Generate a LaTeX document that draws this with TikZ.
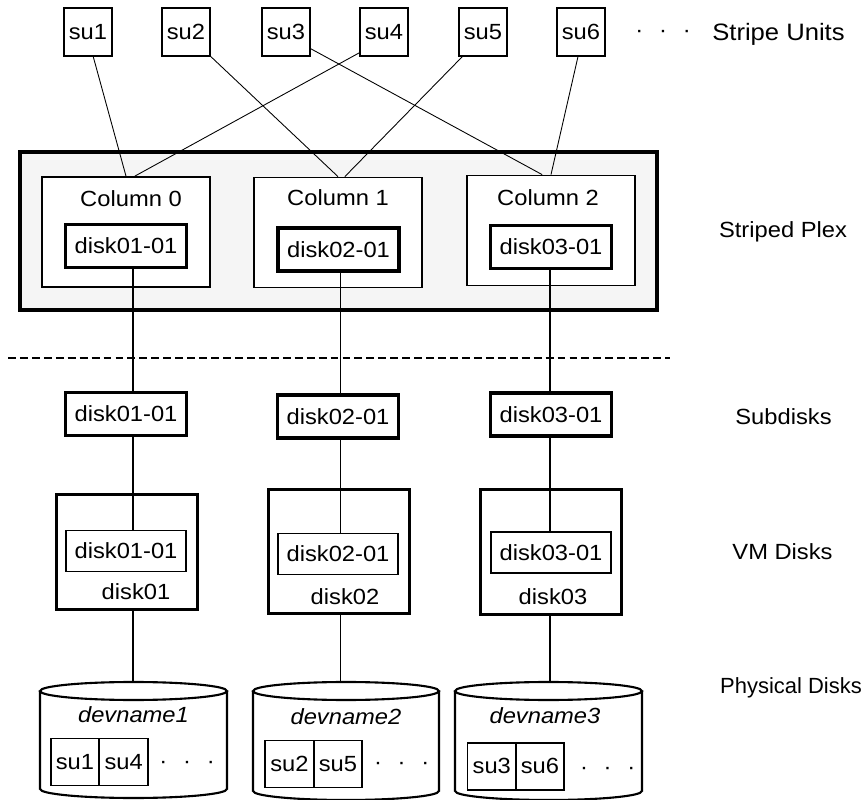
\documentclass[tikz,border=0pt]{standalone}
\usepackage{fontspec}
\setmainfont{Liberation Sans}[FakeStretch=1.08]
\newfontfamily\narrowsans{Liberation Sans}
\usetikzlibrary{calc}
\newcommand{\sudots}{·\hspace{9pt}·\hspace{9pt}·}
\tikzset{
   every node/.style={font=\fontsize{12.5}{15}\selectfont, inner sep=0pt},
   subox/.style={draw, line width=1.1pt, minimum width=0.96cm, minimum height=0.95cm},
   colbox/.style={draw, fill=white, line width=1pt, minimum width=3.36cm, minimum height=2.2cm},
   sdbox/.style={draw, fill=white, line width=1.9pt, minimum width=2.42cm, minimum height=0.86cm},
   vmbox/.style={draw, line width=1.7pt, minimum width=2.84cm},
   vmin/.style={draw, fill=white, line width=0.9pt, minimum width=2.4cm, minimum height=0.82cm},
   pdsu/.style={draw, line width=1pt, minimum width=0.97cm, minimum height=0.94cm},
   plex/.style={draw, fill=black!4, line width=1.9pt, minimum width=12.74cm, minimum height=3.16cm},
   devlbl/.style={font=\fontsize{12.5}{15}\selectfont\itshape},
   link/.style={line width=0.5pt},
   linkthick/.style={line width=1.3pt},
   divider/.style={line width=1.1pt, dash pattern=on 4.5pt off 2.3pt},
   pdisk/.style={line width=1.2pt},
}
\begin{document}
\begin{tikzpicture}[x=0.02cm, y=-0.02cm]
\useasboundingbox (0,0) rectangle (866,800);
% stripe units
\node[subox] (su1) at (88,32) {su1};
\node[subox] (su2) at (186,32) {su2};
\node[subox] (su3) at (286,32) {su3};
\node[subox] (su4) at (384,32) {su4};
\node[subox] (su5) at (483,32) {su5};
\node[subox] (su6) at (581,32) {su6};
\node (sudots) at (663,34) {\sudots};
\node[font=\fontsize{13.5}{16}\selectfont] (lstripe) at (778.5,34) {Stripe Units};
% striped plex
\node[plex] (plex) at (338.5,231) {};
\node[colbox] (col0) at (126,232) {};
\node[colbox] (col1) at (338,232.5) {};
\node[colbox] (col2) at (551,230.5) {};
\node (col0t) at (131,199) {Column 0};
\node (col1t) at (338,198) {Column 1};
\node (col2t) at (548,198) {Column 2};
\node[sdbox] (pd1) at (126,246) {disk01-01};
\node[sdbox] (pd2) at (338.5,249.5) {disk02-01};
\node[sdbox] (pd3) at (551,247) {disk03-01};
\node (lplex) at (783,232) {Striped Plex};
\draw[link] (su1.-78) -- (col0.north);
\draw[link] (su4.220) -- (col0.81);
\draw[link] (su2.south east) -- (col1.north);
\draw[link] (su5.230) -- (col1.83);
\draw[link] (su3.-34) -- (col2.99);
\draw[link] (su6.-97) -- (col2.north);
% divider
\coordinate (dl) at (8,358);
\coordinate (dr) at (670,358);
\draw[divider] (dl) -- (dr);
% column axes
\coordinate (ax0) at (133,0);
\coordinate (ax1) at (340,0);
\coordinate (ax2) at (550,0);
% subdisks
\node[sdbox] (sd1) at (126,414) {disk01-01};
\node[sdbox] (sd2) at (338,416.5) {disk02-01};
\node[sdbox] (sd3) at (551,414.5) {disk03-01};
\node (lsub) at (783.5,417) {Subdisks};
% vm disks
\node[vmbox, minimum height=2.3cm] (vm1) at (127,552) {};
\node[vmbox, minimum height=2.5cm] (vm2) at (339,551.5) {};
\node[vmbox, minimum height=2.52cm] (vm3) at (551,552) {};
\node[vmin] (vi1) at (126,551) {disk01-01};
\node[vmin] (vi2) at (338,554) {disk02-01};
\node[vmin] (vi3) at (551,552.5) {disk03-01};
\node (vm1t) at (136,592) {disk01};
\node (vm2t) at (345,597) {disk02};
\node (vm3t) at (553,597) {disk03};
\node (lvm) at (782.5,552) {VM Disks};
% physical disks
\draw[pdisk] (40,691) -- (40,789) arc[start angle=180, end angle=0, x radius=93.5, y radius=9] -- (227,691);
\draw[pdisk] (133.5,691) ellipse[x radius=93.5, y radius=9];
\draw[pdisk] (253,691) -- (253,791) arc[start angle=180, end angle=0, x radius=93, y radius=9] -- (439,691);
\draw[pdisk] (346,691) ellipse[x radius=93, y radius=9];
\draw[pdisk] (455,691) -- (455,791) arc[start angle=180, end angle=0, x radius=93.5, y radius=9] -- (642,691);
\draw[pdisk] (548.5,691) ellipse[x radius=93.5, y radius=9];
\coordinate (cyl1) at (133.5,682);
\coordinate (cyl2) at (346,682);
\coordinate (cyl3) at (548.5,682);
\node[devlbl] (dev1) at (133.5,715) {devname1};
\node[devlbl] (dev2) at (346,717) {devname2};
\node[devlbl] (dev3) at (545,716) {devname3};
\node[pdsu] (p1a) at (75,762) {su1};
\node[pdsu] (p1b) at (123.7,762) {su4};
\node[pdsu] (p2a) at (289.4,764) {su2};
\node[pdsu] (p2b) at (337.9,764) {su5};
\node[pdsu] (p3a) at (491.8,766.4) {su3};
\node[pdsu] (p3b) at (540,766.4) {su6};
\node (p1d) at (187,765) {\sudots};
\node (p2d) at (401.7,766) {\sudots};
\node (p3d) at (607.7,771) {\sudots};
\node[font=\fontsize{12.5}{15}\narrowsans] (lphys) at (791,688) {Physical Disks};
% column links
\draw[linkthick] (pd1.south -| ax0) -- (sd1.north -| ax0);
\draw[linkthick] (sd1.south -| ax0) -- (vi1.north -| ax0);
\draw[linkthick] (vm1.south -| ax0) -- (cyl1 -| ax0);
\draw[link] (pd2.south -| ax1) -- (sd2.north -| ax1);
\draw[link] (sd2.south -| ax1) -- (vi2.north -| ax1);
\draw[link] (vm2.south -| ax1) -- (cyl2 -| ax1);
\draw[linkthick] (pd3.south -| ax2) -- (sd3.north -| ax2);
\draw[linkthick] (sd3.south -| ax2) -- (vi3.north -| ax2);
\draw[linkthick] (vm3.south -| ax2) -- (cyl3 -| ax2);
\end{tikzpicture}
\end{document}
